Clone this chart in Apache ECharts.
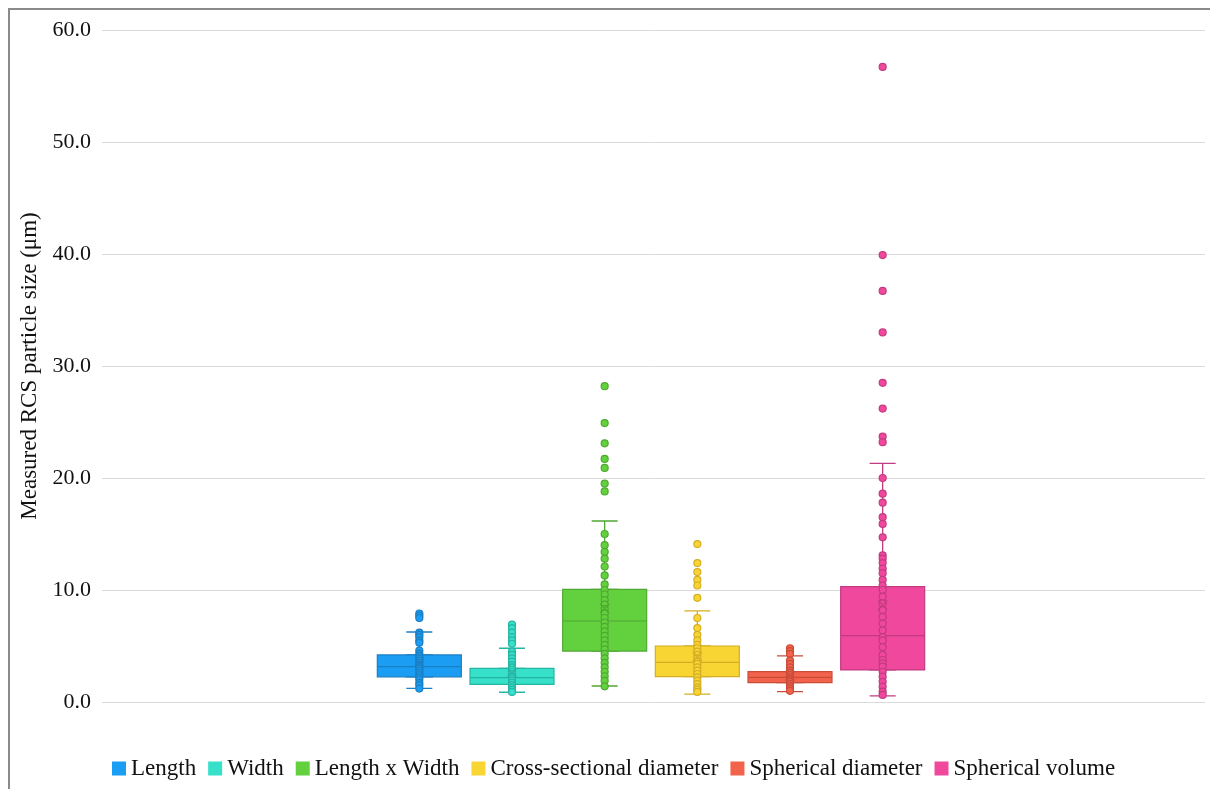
<!DOCTYPE html>
<html>
<head>
<meta charset="utf-8">
<title>Measured RCS particle size</title>
<script src="https://cdn.jsdelivr.net/npm/echarts@6/dist/echarts.min.js"></script>
<style>
  html, body { margin: 0; padding: 0; background: #ffffff; }
  #chart { width: 1210px; height: 789px; }
</style>
</head>
<body>
<div id="chart"></div>
<script>
// Measurement groups, in drawing order
const groups = ['Length', 'Width', 'Length x Width', 'Cross-sectional diameter', 'Spherical diameter', 'Spherical volume'];

// Box statistics per group: [lower whisker, Q1, median, Q3, upper whisker]
const lengthBox = [1.22, 2.25, 3.15, 4.2, 6.25];
const widthBox = [0.87, 1.58, 2.17, 3.0, 4.8];
const areaBox = [1.43, 4.55, 7.23, 10.06, 16.16];
const crossBox = [0.71, 2.26, 3.54, 5.0, 8.13];
const sphDiamBox = [0.92, 1.73, 2.2, 2.71, 4.11];
const sphVolBox = [0.54, 2.86, 5.92, 10.3, 21.3];

// Group means (drawn as x markers)
const means = [3.5, 2.6, 8.36, 4.05, 2.32, 8.66];

// Individual measurements per group
const lengthPts = [7.9, 7.7, 7.5, 6.2, 6.0, 5.8, 5.5, 5.3, 4.6, 4.3, 4.1, 3.9, 3.7, 3.5, 3.3, 3.2, 3.0, 2.8, 2.6, 2.4, 2.2, 2.0, 1.7, 1.5, 1.2];
const widthPts = [6.9, 6.6, 6.2, 5.8, 5.5, 5.2, 4.5, 4.2, 3.9, 3.6, 3.3, 3.1, 2.9, 2.7, 2.5, 2.3, 2.1, 1.9, 1.7, 1.5, 1.3, 1.1, 0.9];
const areaPts = [28.2, 24.9, 23.1, 21.7, 20.9, 19.5, 18.8, 15.0, 14.0, 13.4, 12.8, 12.1, 11.3, 10.5, 10.0, 9.6, 9.1, 8.7, 8.3, 7.9, 7.5, 7.1, 6.7, 6.3, 5.9, 5.5, 5.1, 4.7, 4.3, 3.9, 3.5, 3.1, 2.7, 2.3, 1.9, 1.4];
const crossPts = [14.1, 12.4, 11.6, 10.9, 10.4, 9.3, 7.5, 6.6, 6.0, 5.5, 5.1, 4.8, 4.5, 4.2, 3.9, 3.6, 3.4, 3.1, 2.8, 2.5, 2.2, 1.9, 1.6, 1.3, 1.1, 0.9];
const sphDiamPts = [4.8, 4.55, 4.3, 3.7, 3.4, 3.1, 2.8, 2.6, 2.4, 2.2, 2.0, 1.8, 1.6, 1.4, 1.2, 1.0];
const sphVolPts = [56.7, 39.9, 36.7, 33.0, 28.5, 26.2, 23.7, 23.2, 20.0, 18.6, 17.8, 16.5, 15.9, 14.7, 13.1, 12.8, 12.4, 11.9, 11.5, 10.9, 10.4, 10.0, 9.4, 8.8, 8.2, 7.6, 7.0, 6.4, 5.8, 5.5, 4.9, 4.2, 3.75, 3.45, 3.15, 2.7, 2.26, 1.8, 1.37, 0.92, 0.63];

// Y axis range and tick step
const yMin = 0;
const yMax = 60;
const yStep = 10;

const boxes = [lengthBox, widthBox, areaBox, crossBox, sphDiamBox, sphVolBox];
const points = [lengthPts, widthPts, areaPts, crossPts, sphDiamPts, sphVolPts];

// Fill and outline colours per group
const fills = ['#1a9df2', '#36e0c9', '#63d13e', '#f9d534', '#f3634c', '#f0489c'];
const lines = ['#1b7fc4', '#27b5a3', '#4fa833', '#d4ae25', '#c94d3b', '#c23b80'];

const serif = '"Liberation Serif", "Times New Roman", serif';

const series = [];

// Narrow whiskers with short caps
series.push({
  type: 'boxplot',
  name: 'whiskers',
  xAxisIndex: 2,
  yAxisIndex: 1,
  boxWidth: [26, 26],
  z: 2,
  silent: true,
  data: boxes.map((b, i) => ({
    value: b.slice(),
    itemStyle: { color: lines[i], borderColor: lines[i], borderWidth: 1.3 }
  }))
});

// Wide boxes from Q1 to Q3 with the median line
series.push({
  type: 'boxplot',
  name: 'boxes',
  xAxisIndex: 1,
  yAxisIndex: 1,
  boxWidth: [84, 84],
  z: 3,
  silent: true,
  data: boxes.map((b, i) => ({
    value: [b[1], b[1], b[2], b[3], b[3]],
    itemStyle: { color: fills[i], borderColor: lines[i], borderWidth: 1.2 }
  }))
});

// Individual points, one series per group (also feeds the legend)
groups.forEach((g, i) => {
  series.push({
    type: 'scatter',
    name: g,
    xAxisIndex: 1,
    yAxisIndex: 1,
    symbol: 'circle',
    symbolSize: 7,
    z: 4,
    silent: true,
    itemStyle: { color: fills[i], borderColor: lines[i], borderWidth: 1.2, opacity: 1 },
    data: points[i].map(v => [i, v])
  });
});

// Mean markers
series.push({
  type: 'scatter',
  name: 'mean',
  xAxisIndex: 1,
  yAxisIndex: 1,
  symbol: 'path://M0,0L10,10M10,0L0,10',
  symbolSize: 9,
  z: 5,
  silent: true,
  data: means.map((m, i) => ({
    value: [i, m],
    itemStyle: { color: 'rgba(0,0,0,0)', borderColor: lines[i], borderWidth: 1.5 }
  }))
});

const option = {
  animation: false,
  backgroundColor: '#ffffff',
  graphic: [{
    type: 'rect',
    shape: { x: 9, y: 9, width: 1300, height: 900 },
    style: { fill: 'none', stroke: '#8a8a8a', lineWidth: 2 },
    silent: true,
    z: 100
  }],
  grid: [
    { left: 102, right: 5, top: 30, bottom: 87 },
    { left: 373, width: 556, top: 30, bottom: 87 }
  ],
  legend: {
    data: groups,
    left: 107,
    top: 752,
    icon: 'rect',
    itemWidth: 14,
    itemHeight: 14,
    itemGap: 12,
    itemStyle: { borderWidth: 0 },
    textStyle: { fontFamily: serif, fontSize: 23, color: '#111' },
    selectedMode: false
  },
  xAxis: [
    {
      type: 'category', gridIndex: 0, data: [''],
      axisLine: { show: false }, axisTick: { show: false }, axisLabel: { show: false }, splitLine: { show: false }
    },
    {
      type: 'category', gridIndex: 1, data: groups,
      axisLine: { show: false }, axisTick: { show: false }, axisLabel: { show: false }, splitLine: { show: false }
    },
    {
      type: 'category', gridIndex: 1, data: groups,
      axisLine: { show: false }, axisTick: { show: false }, axisLabel: { show: false }, splitLine: { show: false }
    }
  ],
  yAxis: [
    {
      type: 'value', gridIndex: 0, min: yMin, max: yMax, interval: yStep,
      name: 'Measured RCS particle size (\u03bcm)',
      nameLocation: 'middle',
      nameGap: 61,
      nameTextStyle: { fontFamily: serif, fontSize: 23, color: '#111' },
      axisLine: { show: false },
      axisTick: { show: false },
      axisLabel: {
        fontFamily: serif, fontSize: 22, color: '#111', margin: 11,
        formatter: v => v.toFixed(1)
      },
      splitLine: { show: true, lineStyle: { color: '#dadada', width: 1 } }
    },
    {
      type: 'value', gridIndex: 1, min: yMin, max: yMax, interval: yStep,
      axisLine: { show: false }, axisTick: { show: false }, axisLabel: { show: false }, splitLine: { show: false }
    }
  ],
  series: series
};

const chart = echarts.init(document.getElementById('chart'), null, { renderer: 'canvas' });
chart.setOption(option);
</script>
</body>
</html>
